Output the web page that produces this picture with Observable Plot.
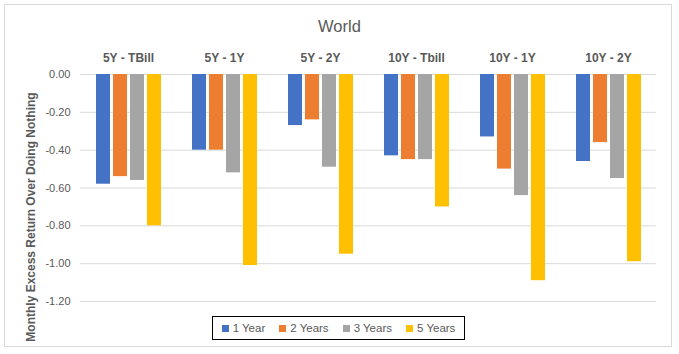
<!DOCTYPE html>
<html>
<head>
<meta charset="utf-8">
<script src="https://cdn.jsdelivr.net/npm/d3@7"></script>
<script src="https://cdn.jsdelivr.net/npm/@observablehq/plot@0.6"></script>
<style>
  html, body { margin: 0; padding: 0; background: #fff; }
  #chart { position: relative; width: 679px; height: 354px; font-family: "Liberation Sans", Arial, sans-serif; overflow: hidden; }
  #frame { position: absolute; left: 4px; top: 4px; width: 668px; height: 343px; border: 1px solid #d9d9d9; box-sizing: border-box; }
  #title { position: absolute; left: 0; width: 679px; top: 17px; text-align: center; font-size: 16.5px; color: #595959; }
  #ylabel { position: absolute; left: 31px; top: 217px; transform: translate(-50%, -50%) rotate(-90deg); white-space: nowrap; font-size: 12px; font-weight: bold; color: #595959; }
  #legend { position: absolute; left: 212px; top: 316px; width: 253px; height: 24px; border: 1px solid #000; box-sizing: border-box; display: flex; align-items: center; justify-content: center; gap: 14px; font-size: 11.5px; color: #595959; }
  .item { display: flex; align-items: center; gap: 4px; }
  .sw { width: 7px; height: 7px; display: inline-block; }
  svg { position: absolute; left: 0; top: 0; }
</style>
</head>
<body>
<div id="chart">
  <div id="frame"></div>
  <div id="title">World</div>
  <div id="ylabel">Monthly Excess Return Over Doing Nothing</div>
  <div id="legend"></div>
</div>
<script>
const groups = ["5Y - TBill", "5Y - 1Y", "5Y - 2Y", "10Y - Tbill", "10Y - 1Y", "10Y - 2Y"];
const series = ["1 Year", "2 Years", "3 Years", "5 Years"];
const colors = ["#4472C4", "#ED7D31", "#A5A5A5", "#FFC000"];
const year1 = [-0.58, -0.40, -0.27, -0.43, -0.33, -0.46];
const year2 = [-0.54, -0.40, -0.24, -0.45, -0.50, -0.36];
const year3 = [-0.56, -0.52, -0.49, -0.45, -0.64, -0.55];
const year5 = [-0.80, -1.01, -0.95, -0.70, -1.09, -0.99];
const yTicks = [0, -0.2, -0.4, -0.6, -0.8, -1.0, -1.2];

const valuesBySeries = [year1, year2, year3, year5];
const data = [];
groups.forEach((g, i) => {
  series.forEach((s, j) => {
    data.push({group: g, series: s, value: valuesBySeries[j][i]});
  });
});

const plot = Plot.plot({
  width: 679,
  height: 354,
  marginTop: 74,
  marginBottom: 53,
  marginLeft: 78,
  marginRight: 21,
  style: {background: "transparent", fontFamily: "'Liberation Sans', Arial, sans-serif"},
  fx: {domain: groups, padding: 0},
  x: {domain: series, paddingInner: 0.19, paddingOuter: 0.87, axis: null},
  y: {domain: [-1.2, 0]},
  color: {domain: series, range: colors},
  marks: [
    Plot.gridY(yTicks, {stroke: "#d9d9d9", strokeOpacity: 1, strokeWidth: 1}),
    Plot.barY(data, {fx: "group", x: "series", y: "value", fill: "series"}),
    Plot.axisY(yTicks, {tickSize: 0, tickPadding: 10, tickFormat: d => d.toFixed(2), fontSize: 11, fill: "#595959", label: null}),
    Plot.axisFx({anchor: "top", tickSize: 0, tickPadding: 13, fontSize: 12, fontWeight: "bold", fill: "#595959", label: null})
  ]
});
document.getElementById("chart").appendChild(plot);

const legend = document.getElementById("legend");
series.forEach((s, j) => {
  const it = document.createElement("div");
  it.className = "item";
  const sw = document.createElement("span");
  sw.className = "sw";
  sw.style.background = colors[j];
  const t = document.createElement("span");
  t.textContent = s;
  it.appendChild(sw);
  it.appendChild(t);
  legend.appendChild(it);
});
</script>
</body>
</html>
